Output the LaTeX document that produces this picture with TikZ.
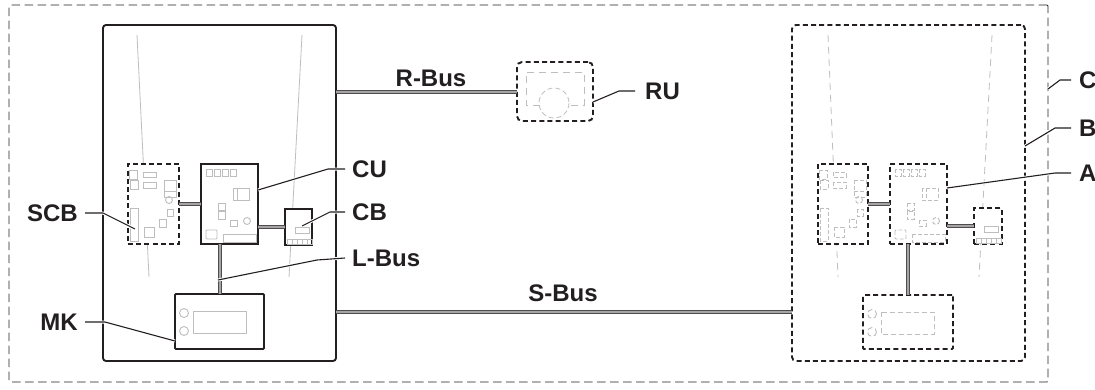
\documentclass[tikz,border=0pt]{standalone}
\usepackage{fontspec}
\setmainfont{Liberation Sans}
\usepackage{tikz}
\usetikzlibrary{positioning,calc}
\definecolor{inkdark}{RGB}{35,31,32}
\definecolor{partgray}{RGB}{190,190,190}
\definecolor{busgray}{RGB}{165,165,165}

% board parts, coordinates from the upper left corner of each box
\newcommand{\scbparts}[2]{
\begin{scope}[shift={(#1)},part/.style={draw=partgray,line width=0.9pt,#2}]
\draw[part] (1,6) rectangle (9,15);
\draw[part] (2,16) rectangle (10,25);
\draw[part] (15,8) rectangle (28,13);
\draw[part] (15,18) rectangle (28,24);
\draw[part] (36,16) rectangle (48,33);
\draw[part] (36,27) -- (48,27);
\draw[part] (41,36) circle (3.5);
\draw[part] (39,45) rectangle (45,52);
\draw[part] (31,55) rectangle (38,63);
\draw[part] (16,63) rectangle (26,73);
\draw[part] (2,44) rectangle (10,77);
\end{scope}
}
\newcommand{\cuparts}[2]{
\begin{scope}[shift={(#1)},part/.style={draw=partgray,line width=0.9pt,#2}]
\foreach \px in {5,13,21,29}
  \draw[part] (\px,5) rectangle ++(6,7);
\draw[part] (32,24) rectangle (48,36);
\draw[part] (36,24) -- (36,36);
\draw[part] (17,39) rectangle (24,46);
\draw[part] (17,47) rectangle (24,55);
\draw[part] (29,56) rectangle (36,62);
\draw[part] (46,57) circle (3.5);
\draw[part,rounded corners=1pt] (5,66) rectangle (16,75);
\draw[part] (22,70) rectangle (55,78);
\end{scope}
}
\newcommand{\cbparts}[2]{
\begin{scope}[shift={(#1)},part/.style={draw=partgray,line width=0.9pt,#2}]
\draw[part] (10,18) rectangle (24,24);
\foreach \px in {2,7,12,17,22}
  \draw[draw=partgray,line width=0.9pt] (\px,30) rectangle ++(5,5);
\end{scope}
}
\newcommand{\mkparts}[2]{
\begin{scope}[shift={(#1)},part/.style={draw=partgray,line width=0.9pt,#2}]
\draw[part] (9,19) circle (4.5);
\draw[part] (9,37) circle (4.5);
\draw[part] (18,17) rectangle (71,39);
\end{scope}
}

\begin{document}
\begin{tikzpicture}[
    x=1pt, y=-1pt,
    box/.style={rectangle, draw=inkdark, fill=white, line width=1.9pt, inner sep=0pt, outer sep=0pt},
    dashbox/.style={box, dash pattern=on 5pt off 3.2pt},
    fineline/.style={draw=partgray, line width=0.8pt},
    finedash/.style={fineline, dash pattern=on 7pt off 5pt},
    bus/.style={draw=inkdark!80, line width=1pt, double=busgray, double distance=2pt},
    lead/.style={draw=inkdark, line width=1.1pt, preaction={draw=white, line width=3pt}},
    tag/.style={font=\fontsize{24}{28}\selectfont\bfseries, text=inkdark, inner sep=0pt}
]
\useasboundingbox (0,0) rectangle (1095,389);

% outer frames
\node[rectangle, draw=inkdark, line width=0.9pt, dash pattern=on 8.5pt off 4.5pt, rounded corners=1pt, inner sep=0pt,
  minimum width=1039pt, minimum height=377pt] (system) at (528.5,193.5) {};
\node[box, rounded corners=3pt, minimum width=233pt, minimum height=336pt] (boiler) at (219.5,193) {};
\node[dashbox, rounded corners=4pt, minimum width=233pt, minimum height=336pt] (boilerB) at (908.5,193) {};

% faint outlines
\draw[fineline] (137,35) -- (149,277);
\draw[fineline] (302,35) -- (289,277);
\draw[finedash] (828,35) -- (838,277);
\draw[finedash] (992,35) -- (979,277);

% boards left
\node[dashbox, minimum width=51pt, minimum height=80pt] (scb) at (153.5,204) {};
\node[box, minimum width=57pt, minimum height=80pt] (cu) at (229.5,204) {};
\node[box, minimum width=27pt, minimum height=36pt] (cb) at (298.5,227) {};
\node[box, rounded corners=1pt, minimum width=89pt, minimum height=55pt] (mk) at (219.5,321.5) {};

% boards right
\node[dashbox, minimum width=50pt, minimum height=80pt] (scbB) at (843,204) {};
\node[dashbox, minimum width=57pt, minimum height=80pt] (cuB) at (918.5,204) {};
\node[dashbox, minimum width=28pt, minimum height=36pt] (cbB) at (988,226) {};
\node[dashbox, rounded corners=1pt, minimum width=90pt, minimum height=54pt] (mkB) at (908,322) {};

% room unit
\node[dashbox, rounded corners=5pt, minimum width=76pt, minimum height=59pt] (ru) at (555,91.5) {};
\draw[finedash] (540,105) -- (526,105) -- (526,72) -- (584,72) -- (584,105) -- (568,105);
\draw[finedash, dash pattern=on 5pt off 3pt] (554,103) circle (15);

\scbparts{128,164}{}
\cuparts{201,164}{}
\cbparts{285,209}{}
\mkparts{175,294}{}
\scbparts{818,164}{dash pattern=on 4pt off 2pt}
\cuparts{890,164}{dash pattern=on 4pt off 2pt}
\cbparts{974,208}{}
\mkparts{863,295}{dash pattern=on 5pt off 3pt}

% buses
\coordinate (sbusstart) at (336,312);
\draw[bus] (scb.east) -- (cu.west);
\draw[bus] (cb.west -| cu.east) -- (cb.west);
\draw[bus] (cu.south -| mk.north) -- (mk.north);
\draw[bus] (scbB.east) -- (cuB.west);
\draw[bus] (cbB.west -| cuB.east) -- (cbB.west);
\draw[bus] (cuB.south -| mkB.north) -- (mkB.north);
\draw[bus] (boiler.east |- ru.west) -- (ru.west);
\draw[bus] (sbusstart) -- (sbusstart -| boilerB.west);

% labels
\node[tag] (rbus) at (431,78) {R-Bus};
\node[tag] (sbus) at (563,293) {S-Bus};
\node[tag, anchor=west] (rulabel) at (645,91) {RU};
\node[tag, anchor=west] (culabel) at (352,169) {CU};
\node[tag, anchor=west] (cblabel) at (352,212) {CB};
\node[tag, anchor=west] (lbus) at (352,258) {L-Bus};
\node[tag, anchor=east] (scblabel) at (78,213) {SCB};
\node[tag, anchor=east] (mklabel) at (78,322) {MK};
\node[tag, anchor=west] (clabel) at (1079,80) {C};
\node[tag, anchor=west] (blabel) at (1079,128) {B};
\node[tag, anchor=west] (alabel) at (1079,173) {A};

% leader lines
\coordinate (ruin) at (593,102);
\coordinate (cuin) at (258,190);
\coordinate (cbin) at (302,226);
\coordinate (lin) at (218,280);
\coordinate (scbin) at (135,229);
\coordinate (mkin) at (175,341);
\coordinate (cin) at (1048,89);
\coordinate (bin) at (1025,146);
\coordinate (ain) at (947,188);
\draw[lead] (ruin) -- (619,91) -- ([xshift=-10pt]rulabel.west);
\draw[lead] (cuin) -- (328,169) -- ([xshift=-7pt]culabel.west);
\draw[lead] (cbin) -- (330,212) -- ([xshift=-7pt]cblabel.west);
\draw[lead] (lin) -- (317,260) -- ([xshift=-7pt]lbus.west);
\draw[lead] (scbin) -- (103,213) -- ([xshift=7pt]scblabel.east);
\draw[lead] (mkin) -- (105,322) -- ([xshift=7pt]mklabel.east);
\draw[lead] (cin) -- (1060,80) -- ([xshift=-8pt]clabel.west);
\draw[lead] (bin) -- (1055,128) -- ([xshift=-8pt]blabel.west);
\draw[lead] (ain) -- (1055,173) -- ([xshift=-8pt]alabel.west);

\end{tikzpicture}
\end{document}
